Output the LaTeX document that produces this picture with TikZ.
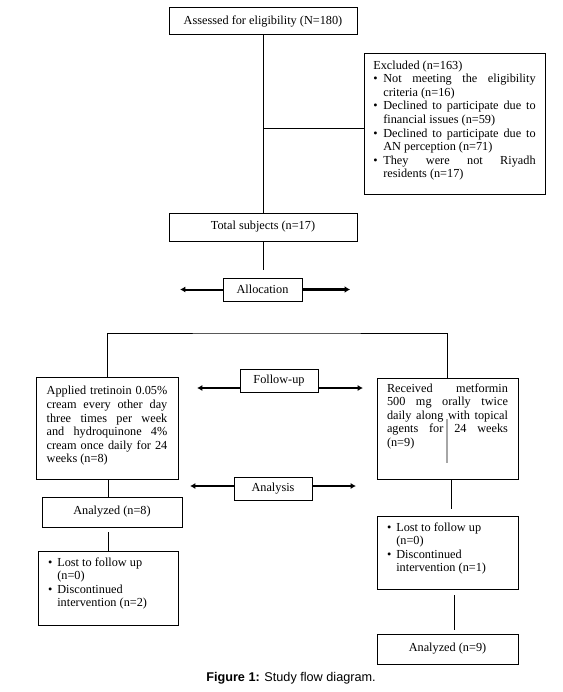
\documentclass[tikz,border=0pt]{standalone}
\usepackage{fontspec}
\setmainfont{Liberation Serif}
\newfontfamily\capfont{Liberation Sans}
\usetikzlibrary{arrows.meta}
\tolerance=10000 \hbadness=10000 \hyphenpenalty=10000 \exhyphenpenalty=10000
\newcommand{\flowpar}[3]{\parbox[t][#1][t]{#2}{\fontsize{9.2pt}{10.2pt}\selectfont #3}}
\newcommand{\bitem}[2]{\par\hangindent=#1\hangafter=1\noindent\makebox[#1][l]{\textbullet}#2\par}
\newcommand{\brk}{\hfil\break}
\begin{document}
\begin{tikzpicture}[x=0.75pt,y=-0.75pt,
  every node/.style={font=\fontsize{9.2pt}{10.2pt}\selectfont},
  flowbox/.style={draw, line width=0.75pt, inner sep=0pt, align=center},
  conn/.style={line width=0.75pt},
  arr/.style={line width=1.5pt, -{Latex[length=4pt,width=4.5pt]}},
  arrthick/.style={line width=2.25pt, -{Latex[length=4pt,width=5pt]}},
  stray/.style={line width=0.9pt, gray!70}]
\useasboundingbox (0,0) rectangle (563,692);

\node[flowbox, minimum width=141pt, minimum height=20.25pt] (assess) at (263,21.5) {Assessed for eligibility (N=180)};

\node[flowbox, inner xsep=7pt, inner ysep=4.9pt] (excl) at (454.5,124) {\flowpar{95.2pt}{121.75pt}{%
Excluded (n=163)\par
\bitem{7.5pt}{Not meeting the eligibility\linebreak criteria (n=16)}%
\bitem{7.5pt}{Declined to participate due to\linebreak financial issues (n=59)}%
\bitem{7.5pt}{Declined to participate due to\linebreak AN perception (n=71)}%
\bitem{7.5pt}{They were not Riyadh\linebreak residents (n=17)}}};

\node[flowbox, minimum width=141pt, minimum height=21pt] (total) at (263,227) {Total subjects (n=17)};

\node[flowbox, minimum width=59.25pt, minimum height=17.25pt] (alloc) at (262.5,289.5) {Allocation};

\node[flowbox, inner xsep=8pt, inner ysep=7.1pt] (left) at (107,428) {\flowpar{62.3pt}{90.5pt}{%
Applied tretinoin 0.05\%\linebreak cream every other day\linebreak three times per week\linebreak and hydroquinone 4\%\linebreak cream once daily for 24\linebreak weeks (n=8)}};

\node[flowbox, inner xsep=7.5pt, inner ysep=4.1pt] (right) at (447.5,428.5) {\flowpar{67.55pt}{90.75pt}{%
Received metformin\linebreak 500 mg orally twice\linebreak daily along with topical\linebreak agents for 24 weeks\linebreak (n=9)}};

\node[flowbox, minimum width=58.5pt, minimum height=17.25pt] (fu) at (279,380.5) {Follow-up};
\node[flowbox, minimum width=58.5pt, minimum height=17.25pt] (an) at (273,488.5) {Analysis};

\node[flowbox, minimum width=105pt, minimum height=22.5pt] (a8) at (112,512) {Analyzed (n=8)};

\node[flowbox, inner xsep=7.5pt, inner ysep=4.9pt] (lostL) at (108,588) {\flowpar{45.7pt}{90pt}{%
\bitem{7pt}{Lost to follow up\brk (n=0)}%
\bitem{7pt}{Discontinued\brk intervention (n=2)}}};

\node[flowbox, inner xsep=7.5pt, inner ysep=4.9pt] (lostR) at (447.5,552.5) {\flowpar{44.95pt}{90.75pt}{%
\bitem{7pt}{Lost to follow up\brk (n=0)}%
\bitem{7pt}{Discontinued\brk intervention (n=1)}}};

\node[flowbox, minimum width=105.75pt, minimum height=22.5pt] (a9) at (447.5,649) {Analyzed (n=9)};

\node[font=\capfont\fontsize{9.5pt}{11pt}\selectfont] (cap) at (291,678) {\textbf{Figure 1:} Study flow diagram.};

% free ends
\coordinate (gapA) at (263,270);
\coordinate (allocL) at (180,289.5);
\coordinate (allocR) at (350,289.5);
\coordinate (bar) at (276,333);
\coordinate (fuL) at (197,388);
\coordinate (fuR) at (363,388);
\coordinate (anL) at (190,486);
\coordinate (anR) at (356,486);
\coordinate (g8) at (108,532);
\coordinate (g9) at (451,509);
\coordinate (g10) at (454,595);
\coordinate (g11) at (454,630);
\coordinate (s1) at (447,419);
\coordinate (s2) at (447,463);

% connectors
\draw[conn] (assess.south) -- (total.north);
\draw[conn] ([yshift=-3pt]excl.west) -- ([yshift=-3pt]excl.west -| assess.south);
\draw[conn] (total.south) -- (gapA);
\draw[arr] (alloc.west) -- (allocL);
\draw[arrthick] (alloc.east) -- (allocR);
\draw[conn] (left.north) |- (bar) -| (right.north);
\draw[arr] (fu.west |- fuL) -- (fuL);
\draw[arr] (fu.east |- fuR) -- (fuR);
\draw[arr] (an.west |- anL) -- (anL);
\draw[arr] (an.east |- anR) -- (anR);
\draw[conn] (left.south -| g8) -- (a8.north -| g8);
\draw[conn] (g8) -- (g8 |- lostL.north);
\draw[conn] (right.south -| g9) -- (g9);
\draw[conn] (g10) -- (g11);
\draw[stray] (s1) -- (s2);
\end{tikzpicture}
\end{document}
